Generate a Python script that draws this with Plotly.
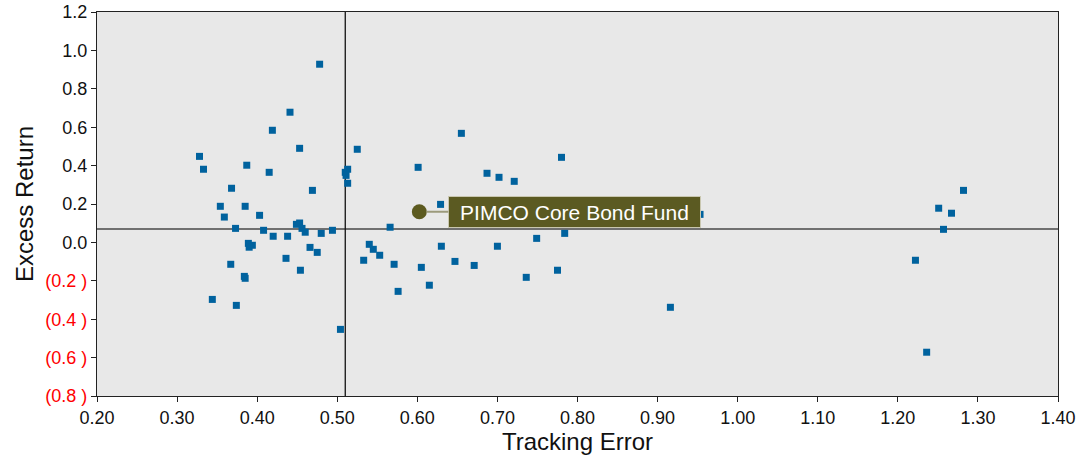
import plotly.graph_objects as go

# Peer funds: tracking error (x) and excess return (y)
tracking_error = [
    0.478, 0.441, 0.419, 0.453, 0.525, 0.328, 0.333, 0.387, 0.415,
    0.513, 0.510, 0.511, 0.513, 0.368, 0.469, 0.354, 0.385, 0.359, 0.403,
    0.373, 0.408, 0.420, 0.438, 0.449, 0.453, 0.456, 0.460, 0.480, 0.494,
    0.389, 0.394, 0.390, 0.466, 0.475, 0.367, 0.436, 0.454, 0.384, 0.385,
    0.344, 0.374, 0.504, 0.540, 0.545, 0.553, 0.533,
    0.655, 0.601, 0.687, 0.702, 0.721, 0.780, 0.629, 0.566,
    0.571, 0.576, 0.605, 0.615, 0.630, 0.647, 0.671, 0.700, 0.736, 0.749,
    0.775, 0.784, 0.953, 0.916,
    1.282, 1.251, 1.267, 1.257, 1.222, 1.236,
]
excess_return = [
    0.928, 0.678, 0.584, 0.490, 0.485, 0.448, 0.381, 0.402, 0.365,
    0.381, 0.365, 0.349, 0.308, 0.282, 0.271, 0.188, 0.188, 0.132, 0.141,
    0.073, 0.063, 0.032, 0.032, 0.094, 0.101, 0.073, 0.053, 0.047, 0.063,
    -0.005, -0.015, -0.025, -0.026, -0.052, -0.114, -0.083, -0.145, -0.177, -0.187,
    -0.297, -0.328, -0.453, -0.010, -0.036, -0.067, -0.093,
    0.568, 0.391, 0.360, 0.339, 0.318, 0.443, 0.198, 0.079,
    -0.114, -0.255, -0.130, -0.223, -0.020, -0.099, -0.120, -0.020, -0.182, 0.021,
    -0.145, 0.047, 0.146, -0.338,
    0.271, 0.178, 0.152, 0.068, -0.093, -0.572,
]

fund_name = "PIMCO Core Bond Fund"
fund_te = [0.6025]
fund_er = [0.160]

avg_te = 0.51
avg_er = 0.07

x_ticks = [0.20, 0.30, 0.40, 0.50, 0.60, 0.70, 0.80, 0.90, 1.00, 1.10, 1.20, 1.30, 1.40]
y_ticks = [1.2, 1.0, 0.8, 0.6, 0.4, 0.2, 0.0, -0.2, -0.4, -0.6, -0.8]


def y_label(v):
    if v < 0:
        return "<span style='color:#ff0000'>(%.1f )</span>" % abs(v)
    return "%.1f" % v


fig = go.Figure()
fig.add_trace(go.Scatter(
    x=tracking_error, y=excess_return, mode="markers",
    marker=dict(symbol="square", size=7, color="#00629e"),
    showlegend=False, hoverinfo="x+y",
))
fig.add_trace(go.Scatter(
    x=fund_te, y=fund_er, mode="markers",
    marker=dict(symbol="circle", size=15, color="#5c5a1f"),
    showlegend=False,
))

fig.add_shape(type="line", xref="paper", yref="y", x0=0, x1=1, y0=avg_er, y1=avg_er,
              line=dict(color="#707070", width=2), layer="below")
fig.add_shape(type="line", xref="x", yref="paper", x0=avg_te, x1=avg_te, y0=0, y1=1,
              line=dict(color="#111111", width=1.3), layer="below")

fig.add_annotation(
    x=fund_te[0], y=fund_er[0], text=fund_name,
    showarrow=True, arrowhead=0, arrowcolor="#9c9a7c", arrowwidth=2,
    ax=155, ay=0, standoff=7,
    width=247, height=26,
    font=dict(family="Liberation Sans, Arial", size=21, color="white"),
    bgcolor="#5b5a22", bordercolor="#c9c7b0", borderwidth=1, borderpad=2,
)

fig.update_layout(
    width=1080, height=460,
    margin=dict(l=97, r=22, t=12, b=64),
    paper_bgcolor="white", plot_bgcolor="#e8e8e8",
    font=dict(family="Liberation Sans, Arial", size=18, color="#111111"),
    xaxis=dict(
        range=[0.2, 1.4], tickvals=x_ticks, ticktext=["%.2f" % v for v in x_ticks],
        showgrid=False, zeroline=False, showline=True, linecolor="#222222", linewidth=1.3,
        mirror=True, ticks="outside", ticklen=5, tickcolor="#222222", automargin=False,
        ticklabeloverflow="allow",
        title=dict(text="Tracking Error", font=dict(size=24), standoff=2),
    ),
    yaxis=dict(
        range=[-0.8, 1.2], tickvals=y_ticks, ticktext=[y_label(v) for v in y_ticks],
        showgrid=False, zeroline=False, showline=True, linecolor="#222222", linewidth=1.3,
        mirror=True, ticks="outside", ticklen=5, tickcolor="#222222", automargin=False,
        ticklabeloverflow="allow",
        title=dict(text="Excess Return", font=dict(size=24), standoff=4),
    ),
)

fig.write_html(
    "out.html",
    config={"displayModeBar": False},
    post_script="document.body.style.margin='0';document.body.style.overflow='hidden';",
)
